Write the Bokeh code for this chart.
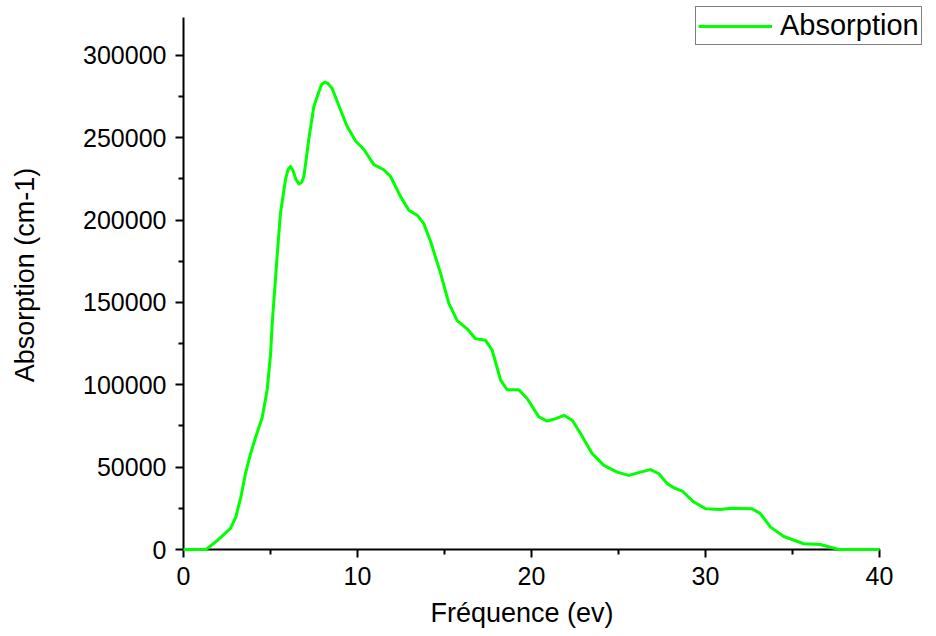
from bokeh.plotting import figure
from bokeh.models import Range1d, Legend, LegendItem, NumeralTickFormatter, FixedTicker, Title
from bokeh.embed import file_html
from bokeh.resources import INLINE

freq = [0.0, 1.3, 2.0, 2.7, 3.0, 3.3, 3.56, 3.85, 4.14, 4.52, 4.81, 5.0, 5.1, 5.38, 5.57, 5.86,
        6.0, 6.15, 6.3, 6.45, 6.63, 6.8, 6.92, 7.2, 7.49, 7.78, 7.95, 8.12, 8.3, 8.54, 9.02,
        9.4, 9.89, 10.36, 10.94, 11.51, 11.9, 12.47, 12.95, 13.43, 13.8, 14.2, 14.77, 15.25,
        15.73, 16.3, 16.78, 17.1, 17.36, 17.74, 18.22, 18.6, 19.27, 19.75, 20.42, 20.9, 21.4,
        21.86, 22.34, 22.82, 23.49, 24.16, 24.92, 25.59, 26.26, 26.84, 27.32, 27.8, 28.18,
        28.66, 29.33, 30.0, 30.86, 31.44, 32.68, 33.16, 33.74, 34.5, 35.65, 36.6, 37.18,
        37.66, 40.0]
absorption = [0, 0, 6000, 12800, 19500, 32000, 46000, 58000, 68000, 80000, 97000, 118000,
              137500, 178000, 204000, 224500, 230500, 232600, 230000, 225000, 222000, 223000,
              226500, 249000, 269000, 278000, 282500, 283800, 283000, 280000, 267000, 257000,
              248000, 243000, 233700, 230600, 226500, 214400, 206000, 203000, 198000, 187000,
              167800, 149500, 139000, 134000, 128000, 127500, 127000, 121000, 103000, 97000,
              97000, 91700, 80500, 78000, 79500, 81500, 78500, 70400, 58200, 51100, 47000,
              45000, 47000, 48500, 46000, 40000, 37500, 35500, 28800, 24800, 24300, 25100,
              24800, 21700, 13600, 7900, 3500, 3000, 1400, 0, 0]

x_ticks = [0, 10, 20, 30, 40]
x_minor = [5, 15, 25, 35]
y_ticks = [0, 50000, 100000, 150000, 200000, 250000, 300000]
y_minor = [25000, 75000, 125000, 175000, 225000, 275000]

X_MAX = 40.0
Y_MAX = 323000.0
px_per_x = (879 - 183) / X_MAX
px_per_y = (549 - 56) / 300000.0
x_end = X_MAX + (936 - 879) / px_per_x
y_end = Y_MAX + 17 / px_per_y

p = figure(width=936, height=636, output_backend="svg", toolbar_location=None,
           x_range=Range1d(0, x_end), y_range=Range1d(0, y_end),
           min_border_left=183, min_border_right=0, min_border_top=0, min_border_bottom=87)
p.outline_line_color = None
p.xgrid.visible = False
p.ygrid.visible = False
p.background_fill_color = "white"
p.border_fill_color = "white"

r = p.line(freq, absorption, line_color="#00ff00", line_width=3, line_join="round")
r.level = "overlay"

font = "Liberation Sans"
for ax in (p.xaxis[0], p.yaxis[0]):
    ax.axis_line_width = 2
    ax.axis_line_color = "black"
    ax.major_tick_line_width = 2
    ax.minor_tick_line_width = 2
    ax.major_tick_in = 0
    ax.major_tick_out = 8
    ax.minor_tick_in = 0
    ax.minor_tick_out = 5
    ax.major_label_text_font = font
    ax.major_label_text_font_size = "25px"
    ax.major_label_text_color = "black"
    ax.axis_label_text_font = font
    ax.axis_label_text_font_size = "27px"
    ax.axis_label_text_font_style = "normal"
    ax.axis_label_text_color = "black"

p.xaxis.bounds = (0, X_MAX)
p.yaxis.bounds = (0, Y_MAX)
p.xaxis.ticker = FixedTicker(ticks=x_ticks, minor_ticks=x_minor)
p.yaxis.ticker = FixedTicker(ticks=y_ticks, minor_ticks=y_minor)
p.yaxis.formatter = NumeralTickFormatter(format="0")
p.yaxis.axis_label = "Absorption (cm-1)"
p.xaxis.major_label_standoff = 9
p.yaxis.major_label_standoff = 9
p.yaxis.axis_label_standoff = 40

xlabel = Title(text="Fréquence (ev)", align="left", offset=247, standoff=17,
               text_font=font, text_font_size="27px", text_font_style="normal",
               text_color="black")
p.add_layout(xlabel, "below")

legend = Legend(items=[LegendItem(label="Absorption", renderers=[r])],
                location=(512, 504), orientation="vertical",
                label_text_font=font, label_text_font_size="29px", label_text_color="black",
                glyph_width=74, glyph_height=20, label_height=20, label_standoff=8,
                padding=2, margin=0, spacing=0,
                border_line_color="black", border_line_width=1,
                background_fill_alpha=1.0)
p.add_layout(legend, "center")

open("out.html", "w").write(file_html(p, INLINE))
